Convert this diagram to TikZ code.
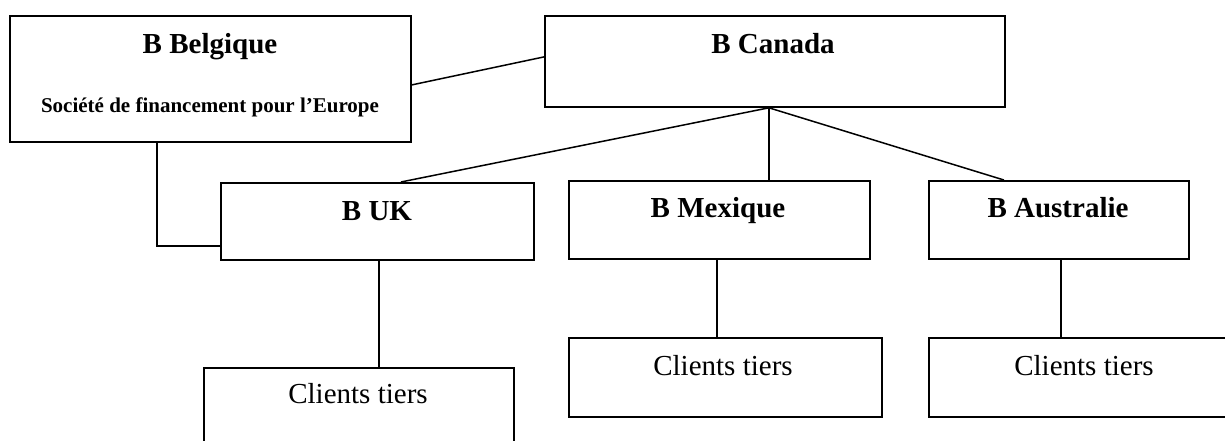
\documentclass[tikz,border=0pt]{standalone}
\usepackage{fontspec}
\setmainfont{Liberation Serif}
\begin{document}
\begin{tikzpicture}[x=1pt,y=-1pt,
  box/.style={draw, line width=1.8pt, inner sep=0pt, anchor=north west},
  conn/.style={line width=1.5pt},
  title/.style={anchor=base, inner sep=0pt, font=\fontsize{29}{34}\selectfont\bfseries},
  sub/.style={anchor=base, inner sep=0pt, font=\fontsize{21}{25}\selectfont\bfseries},
  client/.style={anchor=base, inner sep=0pt, font=\fontsize{29}{34}\selectfont}]
\clip (0,0) rectangle (1225,440);
\fill[white] (0,0) rectangle (1225,440);
% boxes
\node[box, minimum width=401pt, minimum height=126pt] (belg) at (9,15) {};
\node[box, minimum width=460pt, minimum height=91pt] (can) at (544,15) {};
\node[box, minimum width=313pt, minimum height=77pt] (uk) at (220,182) {};
\node[box, minimum width=301pt, minimum height=78pt] (mex) at (568,180) {};
\node[box, minimum width=260pt, minimum height=78pt] (aus) at (928,180) {};
\node[box, minimum width=310pt, minimum height=79pt] (cuk) at (203,367) {};
\node[box, minimum width=313pt, minimum height=79pt] (cmex) at (568,337) {};
\node[box, minimum width=312pt, minimum height=79pt] (caus) at (928,337) {};
% texts
\node[title] (tbelg) at (210,53) {B Belgique};
\node[sub] (sbelg) at (210,112) {Société de financement pour l’Europe};
\node[title] (tcan) at (773,53) {B Canada};
\node[title] (tuk) at (377,220) {B UK};
\node[title] (tmex) at (718,217) {B Mexique};
\node[title] (taus) at (1058,217) {B Australie};
\node[client] (tcuk) at (358,403) {Clients tiers};
\node[client] (tcmex) at (723,375) {Clients tiers};
\node[client] (tcaus) at (1084,375) {Clients tiers};
% connectors
\coordinate (hub) at ([xshift=-6pt]can.south);
\draw[conn] ([yshift=-6pt]belg.east) -- ([yshift=4.5pt]can.west);
\draw[conn] (hub) -- ([xshift=23.5pt]uk.north);
\draw[conn] (hub) -- (hub |- mex.north);
\draw[conn] (hub) -- ([xshift=-55pt]aus.north);
\coordinate (bdown) at ([xshift=-53.5pt]belg.south);
\draw[conn] (bdown) |- ([yshift=-24.5pt]uk.west);
\coordinate (ukdown) at ([xshift=1.5pt]uk.south);
\draw[conn] (ukdown) -- (ukdown |- cuk.north);
\coordinate (mexdown) at ([xshift=-2.5pt]mex.south);
\draw[conn] (mexdown) -- (mexdown |- cmex.north);
\coordinate (ausdown) at ([xshift=2pt]aus.south);
\draw[conn] (ausdown) -- (ausdown |- caus.north);
\end{tikzpicture}
\end{document}
